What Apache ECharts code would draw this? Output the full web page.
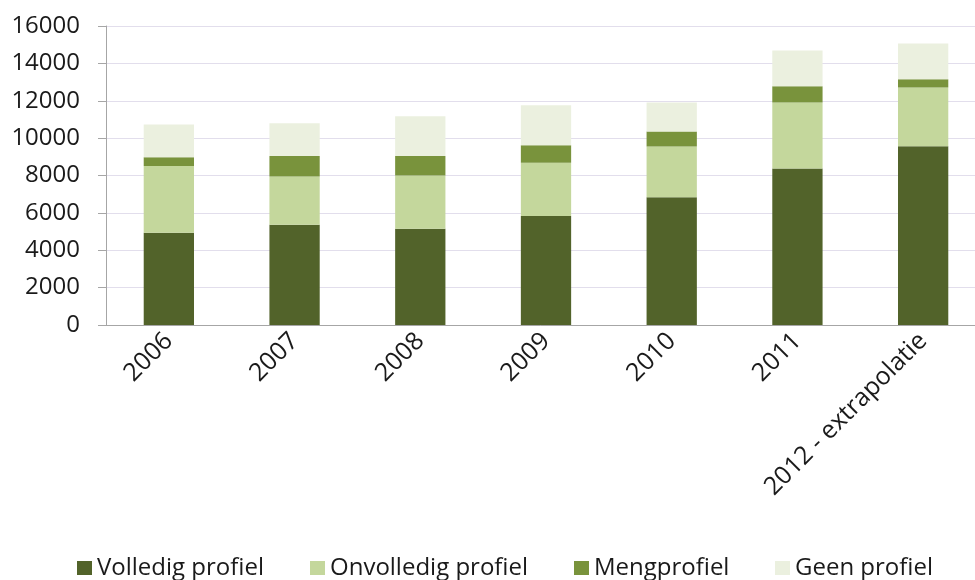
<!DOCTYPE html>
<html>
<head>
<meta charset="utf-8">
<script src="https://cdn.jsdelivr.net/npm/echarts@6/dist/echarts.min.js"></script>
<style>
  html, body { margin: 0; padding: 0; background: #fff; }
  #chart { width: 975px; height: 580px; }
</style>
</head>
<body>
<div id="chart"></div>
<script>
// categories and series
const years = ['2006', '2007', '2008', '2009', '2010', '2011', '2012 - extrapolatie'];
const volledig = [4930, 5360, 5150, 5830, 6840, 8380, 9570];
const onvolledig = [3580, 2590, 2850, 2850, 2710, 3530, 3140];
const meng = [470, 1100, 1050, 940, 800, 870, 440];
const geen = [1750, 1750, 2120, 2140, 1550, 1910, 1910];

const seriesNames = ['Volledig profiel', 'Onvolledig profiel', 'Mengprofiel', 'Geen profiel'];
const seriesColors = ['#52632A', '#C4D79C', '#79933C', '#EBF0DF'];
const seriesData = [volledig, onvolledig, meng, geen];

const fontFamily = '"Open Sans", sans-serif';
const textColor = '#1a1a1a';

// legend item x positions (one legend per item, like the original spacing)
const legendLeft = [77, 310, 574, 775];

const chart = echarts.init(document.getElementById('chart'));

const option = {
  animation: false,
  textStyle: { fontFamily: fontFamily },
  grid: {
    left: 106,
    width: 880,
    top: 26,
    bottom: 255,
    outerBoundsMode: 'none',
  },
  legend: seriesNames.map((name, i) => ({
    data: [name],
    left: legendLeft[i],
    top: 556,
    padding: 0,
    icon: 'rect',
    itemWidth: 15,
    itemHeight: 14,
    selectedMode: false,
    textStyle: { fontSize: 24, color: textColor, fontFamily: fontFamily },
  })),
  xAxis: {
    type: 'category',
    data: years,
    axisLine: { lineStyle: { color: '#A6A6A6', width: 1 } },
    axisTick: { length: 8, lineStyle: { color: '#A6A6A6' } },
    axisLabel: {
      rotate: 45,
      interval: 0,
      fontSize: 25,
      color: textColor,
      margin: 12,
    },
  },
  yAxis: {
    type: 'value',
    min: 0,
    max: 16000,
    interval: 2000,
    axisLine: { show: true, lineStyle: { color: '#A6A6A6', width: 1 } },
    axisTick: { show: true, length: 8, lineStyle: { color: '#A6A6A6' } },
    axisLabel: {
      fontSize: 24,
      color: textColor,
      margin: 26,
      formatter: (v) => String(v),
    },
    splitLine: { lineStyle: { color: '#E2DEEC', width: 1 } },
  },
  series: seriesData.map((d, i) => ({
    name: seriesNames[i],
    type: 'bar',
    stack: 'total',
    barWidth: '40%',
    data: d,
    itemStyle: { color: seriesColors[i] },
  })),
};

chart.setOption(option);
</script>
</body>
</html>
